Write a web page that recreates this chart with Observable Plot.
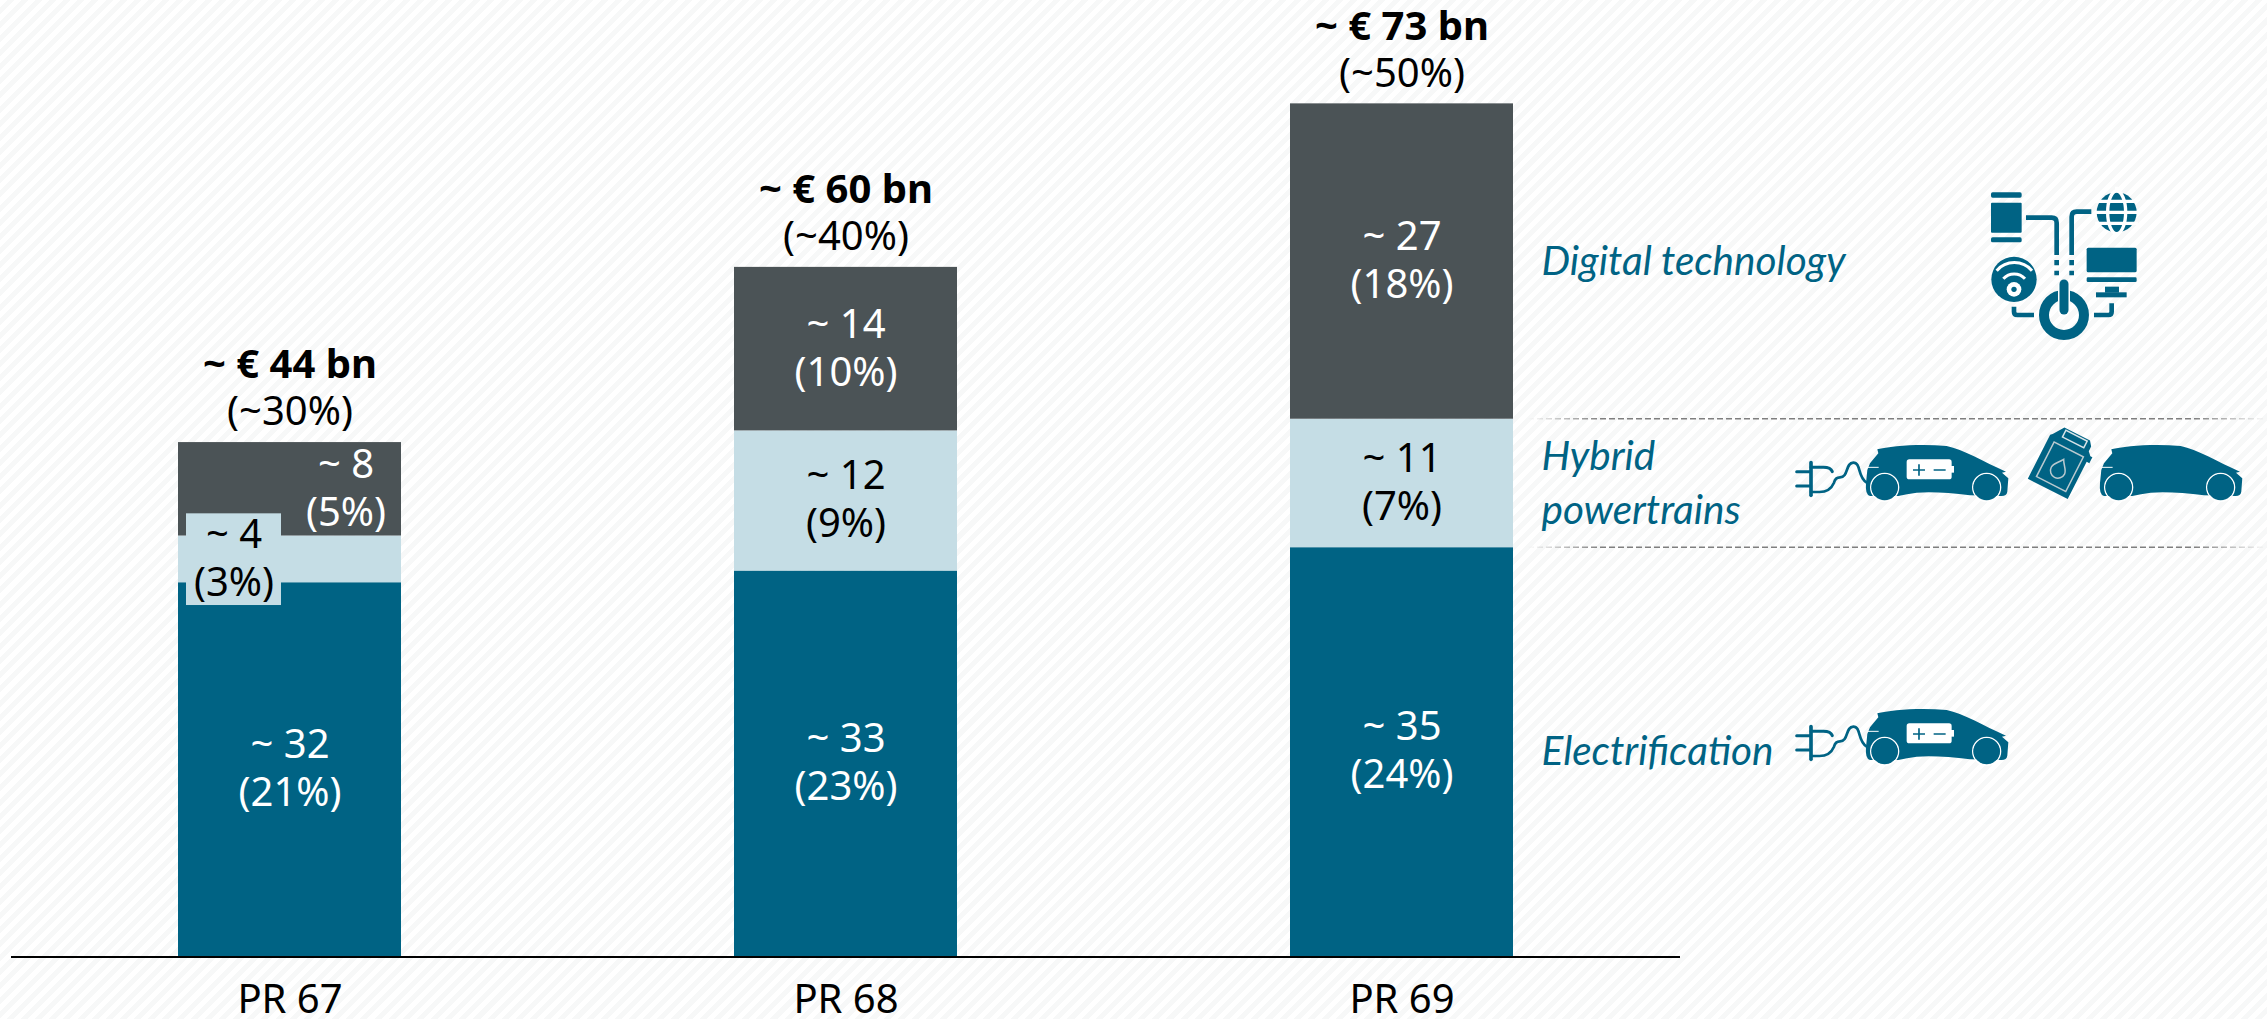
<!DOCTYPE html>
<html>
<head>
<meta charset="utf-8">
<script src="https://cdn.jsdelivr.net/npm/d3@7"></script>
<script src="https://cdn.jsdelivr.net/npm/@observablehq/plot@0.6"></script>
<style>
html,body{margin:0;padding:0;width:2267px;height:1019px;overflow:hidden;background:#fff}
#stage{width:2267px;height:1019px;background:repeating-linear-gradient(135deg,#ffffff 0,#ffffff 5px,#f7f8f8 5px,#f7f8f8 10px)}
svg{display:block}
</style>
</head>
<body>
<div id="stage"></div>
<script>
const categories = ["PR 67", "PR 68", "PR 69"];
const electrification = [32, 33, 35];
const hybrid = [4, 12, 11];
const digital = [8, 14, 27];
const electrificationShare = [21, 23, 24];
const hybridShare = [3, 9, 7];
const digitalShare = [5, 10, 18];
const totals = ["~ € 44 bn", "~ € 60 bn", "~ € 73 bn"];
const totalShares = ["(~30%)", "(~40%)", "(~50%)"];
const seriesNames = ["Electrification", "Hybrid\npowertrains", "Digital technology"];

const BLUE = "#006384", LIGHT = "#c5dde5", DARK = "#4b5356";
const SANS = "'Noto Sans','Open Sans',sans-serif";
const fills = [BLUE, LIGHT, DARK];
const inks = ["#fff", "#000", "#fff"];
const seriesValues = [electrification, hybrid, digital];
const seriesShares = [electrificationShare, hybridShare, digitalShare];

const segments = categories.flatMap((category, c) => {
  let base = 0;
  return seriesValues.map((values, s) => {
    const row = {category, c, s, y1: base, y2: base + values[c],
      label: `~ ${values[c]}\n(${seriesShares[s][c]}%)`};
    base += values[c];
    return row;
  });
});
const tops = categories.map((category, c) => ({
  category, c,
  top: electrification[c] + hybrid[c] + digital[c],
  total: totals[c], share: totalShares[c]
}));
const last = categories.length - 1;
const seriesRows = seriesNames.map((name, s) => {
  const seg = segments.find(d => d.c === last && d.s === s);
  return {name, mid: (seg.y1 + seg.y2) / 2};
});
const boundaries = [electrification[last], electrification[last] + hybrid[last]];

const isSqueezed = d => d.c === 0 && d.s > 0;
const labelMark = (rows, dx) => Plot.text(rows, {
  x: "category", y: d => (d.y1 + d.y2) / 2, text: "label", dx, dy: -3,
  fill: d => inks[d.s], fontSize: 40, lineHeight: 1.2, lineAnchor: "middle",
  fontFamily: SANS
});

function carBody() {
  return `<path d="M262,88 C300,78 390,70 470,78 C520,88 580,125 648,155 L636,158 L655,175 L652,215 Q650,228 635,228 L540,226 Q450,214 380,218 Q350,222 325,228 L240,228 Q225,225 228,190 L232,150 L240,130 L265,100 Z"/>
  <path d="M232,142 H266" fill="none" stroke="#fff" stroke-width="3"/>
  <circle cx="284" cy="202" r="42" fill="none" stroke="#fff" stroke-width="4"/>
  <circle cx="590" cy="202" r="42" fill="none" stroke="#fff" stroke-width="4"/>
  <circle cx="284" cy="202" r="39"/><circle cx="590" cy="202" r="39"/>`;
}
function plug() {
  return `<g fill="none" stroke="${BLUE}" stroke-linecap="round">
    <path d="M20,155 H62 M20,198 H62" stroke-width="9"/>
    <path d="M63,128 V226" stroke-width="11"/>
    <path d="M63,142 H100 Q122,142 127,155" stroke-width="9"/>
    <path d="M63,216 H88 Q120,216 132,188 Q136,172 150,172 C176,172 166,128 190,128 C214,128 202,172 230,188" stroke-width="8"/>
  </g>`;
}
function battery() {
  return `<rect x="350" y="118" width="135" height="60" rx="8" fill="#fff"/><rect x="483" y="138" width="9" height="20" fill="#fff"/>
  <path d="M369,150 H405 M387,133 V167 M431,150 H467" stroke="${BLUE}" stroke-width="5" fill="none"/>`;
}
function icons() {
  const g = d3.create("svg:g").attr("aria-label", "icons");
  g.html(`
  <defs><linearGradient id="fade" gradientUnits="userSpaceOnUse" x1="1528" x2="2267" y1="0" y2="0">
    <stop offset="0" stop-color="#7f7f7f" stop-opacity="0"/><stop offset="0.1" stop-color="#7f7f7f"/>
    <stop offset="0.9" stop-color="#7f7f7f"/><stop offset="1" stop-color="#7f7f7f" stop-opacity="0"/>
  </linearGradient></defs>
  <g transform="translate(1790,420) scale(0.3333)" fill="${BLUE}">
    ${plug()}${carBody()}${battery()}
    <g transform="translate(702,0)">${carBody()}</g>
    <g transform="translate(815,125) rotate(27) scale(1.12)">
      <path d="M-55,-55 L-35,-85 H42 L52,-72 V-58 L62,-48 H68 V-30 H60 V82 H-60 V-50 Z"/>
      <path d="M-28,-80 H36 V-60 H-28 Z" fill="none" stroke="#d8e4e8" stroke-width="4"/>
      <rect x="-42" y="-38" width="88" height="104" fill="none" stroke="#b9c9cf" stroke-width="4"/>
      <path d="M2,-8 C-8,8 -18,14 -18,26 A20,20 0 0 0 22,26 C22,14 10,8 2,-8 Z" fill="none" stroke="#b9c9cf" stroke-width="4"/>
    </g>
  </g>
  <g transform="translate(1790,684) scale(0.3333)" fill="${BLUE}">${plug()}${carBody()}${battery()}</g>
  <g transform="translate(1970,180) scale(0.3333)" fill="${BLUE}">
    <rect x="63" y="37" width="92" height="16" rx="5"/><rect x="63" y="68" width="92" height="90" rx="3"/><rect x="63" y="172" width="92" height="15" rx="5"/>
    <g fill="none" stroke="${BLUE}" stroke-width="14">
      <path d="M168,113 H245 Q260,113 260,128 V225"/><path d="M364,95 H320 Q305,95 305,110 V225"/>
      <path d="M260,240 V256 M260,272 V286 M305,240 V256 M305,272 V286"/>
      <path d="M132,380 V395 Q132,405 142,405 H192"/><path d="M372,405 H415 Q425,405 425,395 V370"/>
    </g>
    <circle cx="440" cy="97" r="60"/>
    <g fill="none" stroke="#fff" stroke-width="10">
      <path d="M376,64 H504 M376,97 H504 M376,130 H504"/>
      <ellipse cx="440" cy="97" rx="27" ry="64"/><path d="M440,20 V32"/>
    </g>
    <rect x="350" y="203" width="150" height="74" rx="5"/><rect x="350" y="292" width="150" height="14" rx="4"/>
    <rect x="405" y="320" width="42" height="18"/><rect x="378" y="337" width="92" height="15"/>
    <circle cx="132" cy="298" r="68"/>
    <g fill="none" stroke="#fff" stroke-width="9"><path d="M80,272 A70,70 0 0 1 186,272"/><path d="M100,296 A44,44 0 0 1 165,296"/></g>
    <circle cx="132" cy="328" r="22" fill="#fff"/><circle cx="132" cy="328" r="8"/>
    <circle cx="282" cy="405" r="60" fill="none" stroke="${BLUE}" stroke-width="30"/>
    <path d="M282,318 V392" stroke="#fff" stroke-width="36" stroke-linecap="round" fill="none"/>
    <path d="M282,312 V390" stroke="${BLUE}" stroke-width="27" stroke-linecap="round" fill="none"/>
  </g>`);
  return g.node();
}

const chart = Plot.plot({
  width: 2267, height: 1019,
  marginTop: 0, marginRight: 0, marginBottom: 0, marginLeft: 0,
  style: {background: "transparent", overflow: "visible"},
  x: {type: "band", domain: categories, range: [10.6, 1680.9], paddingInner: 0.5995, paddingOuter: 0.3, axis: null},
  y: {domain: [0, 956 / 11.68], range: [956, 0], axis: null},
  marks: [
    icons,
    Plot.ruleY(boundaries, {insetLeft: 1528, stroke: "url(#fade)", strokeWidth: 1.5, strokeDasharray: "6,3", dy: -0.5}),
    Plot.barY(segments, {x: "category", y1: "y1", y2: "y2", fill: d => fills[d.s]}),
    Plot.barY(segments.filter(d => d.c === 0 && d.s === 1), {
      x: "category", y1: d => d.y1 - 1.95, y2: d => d.y2 + 1.9,
      insetLeft: 8, insetRight: 120, fill: LIGHT
    }),
    labelMark(segments.filter(d => !isSqueezed(d)), 0),
    labelMark(segments.filter(d => d.c === 0 && d.s === 1), -56),
    labelMark(segments.filter(d => d.c === 0 && d.s === 2), 56),
    Plot.text(tops, {x: "category", y: "top", text: "share", dy: -30, fontSize: 40, lineAnchor: "middle", fill: "#000", fontFamily: SANS}),
    Plot.text(tops, {x: "category", y: "top", text: "total", dy: -77, fontSize: 40, fontWeight: 700, lineAnchor: "middle", fill: "#000", fontFamily: SANS}),
    Plot.text(categories, {x: d => d, text: d => d, frameAnchor: "bottom", dy: -19, fontSize: 40, lineAnchor: "middle", fill: "#000", fontFamily: SANS}),
    Plot.text(seriesRows, {y: "mid", text: "name", frameAnchor: "left", dx: 1541, dy: -4, textAnchor: "start", lineAnchor: "middle", lineHeight: 1.33, fontSize: 40.5, fontStyle: "italic", fontFamily: "Lato,'Open Sans',sans-serif", fill: BLUE}),
    Plot.ruleY([0], {insetLeft: 11, insetRight: 587, stroke: "#000", strokeWidth: 2, dy: 0.5})
  ]
});
document.getElementById("stage").append(chart);
</script>
</body>
</html>
